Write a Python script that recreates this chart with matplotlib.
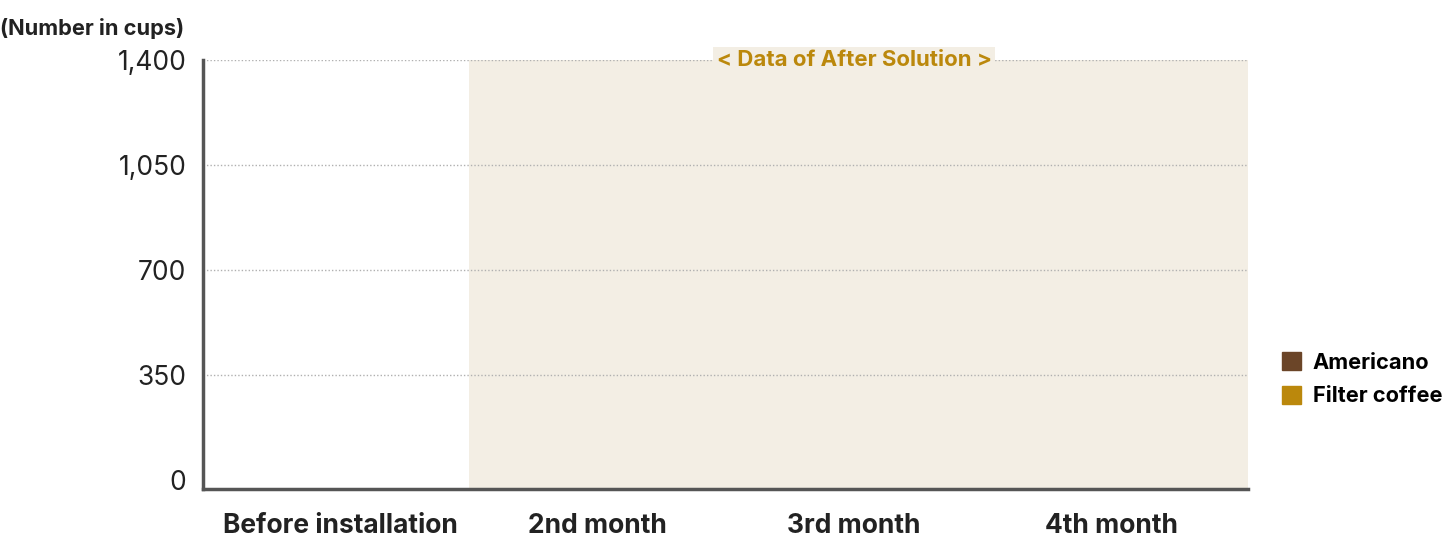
import numpy as np
import matplotlib.pyplot as plt
from matplotlib.patches import Patch

plt.rcParams['font.family'] = ['Inter', 'DejaVu Sans']

## Data (all bars at zero in the reference)
categories = ['Before installation', '2nd month', '3rd month', '4th month']
americano = [0, 0, 0, 0]
filter_coffee = [0, 0, 0, 0]
yticks = [0, 350, 700, 1050, 1400]

c_americano = '#6b4528'
c_filter = '#bb880c'
c_shade = '#f3eee4'

fig = plt.figure(figsize=(14.46, 5.56), dpi=100)
ax = fig.add_axes([0.1404, 0.1205, 0.7227, 0.7715])

x = np.arange(len(categories))
xmin, xmax = -0.533, len(categories) - 1 + 0.533
ax.set_xlim(xmin, xmax)
ax.set_ylim(-30, 1400)

# shaded "after" area
ax.axvspan(0.5, xmax, color=c_shade, zorder=0, lw=0)

ax.bar(x, americano, width=0.4, color=c_americano, zorder=3)
ax.bar(x, filter_coffee, width=0.4, bottom=americano, color=c_filter, zorder=3)

# dotted guide lines (none at zero)
ax.hlines(yticks[1:], xmin, xmax, linestyles=[(0, (1, 1.5))], colors='#b0b0b0', lw=1, zorder=1)

ax.set_yticks(yticks)
ax.set_yticklabels([f'{v:,}' for v in yticks], fontsize=19, color='#222222')
ax.set_xticks(x)
ax.set_xticklabels(categories, fontsize=19, fontweight='bold', color='#222222')
ax.tick_params(axis='both', length=0)
ax.tick_params(axis='y', pad=12)
ax.tick_params(axis='x', pad=17)

for s in ['top', 'right']:
    ax.spines[s].set_visible(False)
for s in ['left', 'bottom']:
    ax.spines[s].set_color('#555555')
    ax.spines[s].set_linewidth(2.5)

ax.text(2, 1400, '< Data of After Solution >', ha='center', va='center',
        fontsize=16, fontweight='bold', color=c_filter, zorder=5,
        bbox=dict(boxstyle='square,pad=0.15', fc=c_shade, ec='none'))

fig.text(0.0, 0.948, '(Number in cups)', ha='left', va='center',
         fontsize=15.7, fontweight='bold', color='#222222')

handles = [Patch(color=c_americano, label='Americano'),
           Patch(color=c_filter, label='Filter coffee')]
leg = fig.legend(handles=handles, loc='center left', bbox_to_anchor=(0.8863, 0.3176),
                 frameon=False, handlelength=0.87, handleheight=0.87,
                 handletextpad=0.55, labelspacing=0.6, borderaxespad=0, borderpad=0,
                 prop={'weight': 'bold', 'size': 15.7})

fig.savefig('out.png', dpi=100)
